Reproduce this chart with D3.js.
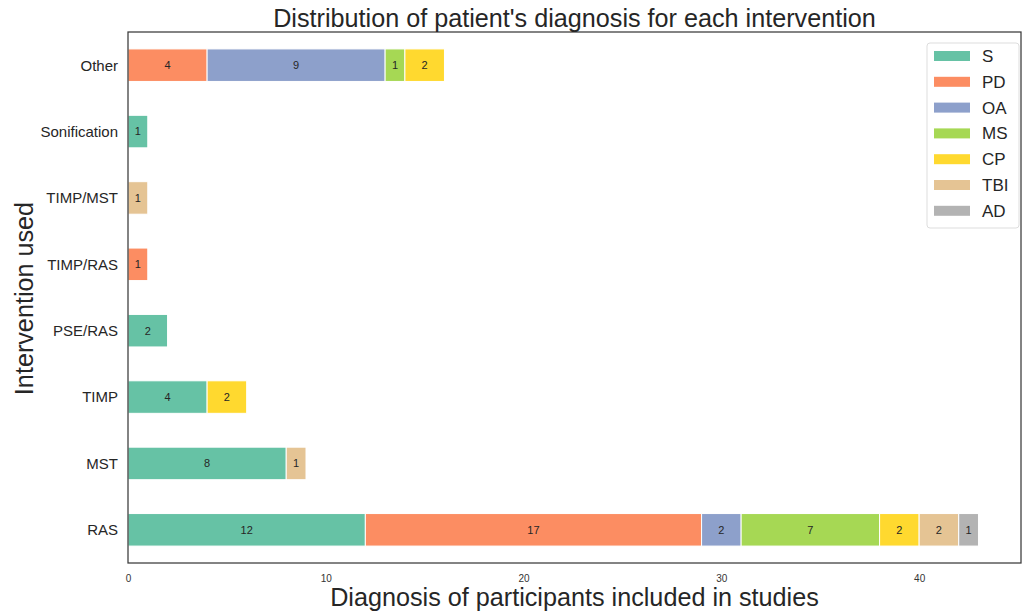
<!DOCTYPE html>
<html>
<head>
<meta charset="utf-8">
<script src="https://cdn.jsdelivr.net/npm/d3@7"></script>
<style>
  body { margin: 0; background: #fff; }
  text { font-family: "Liberation Sans", Arial, sans-serif; }
</style>
</head>
<body>
<div id="chart"></div>
<script>
// interventions, bottom to top
var categories = ["RAS", "MST", "TIMP", "PSE/RAS", "TIMP/RAS", "TIMP/MST", "Sonification", "Other"];
var diagnoses = ["S", "PD", "OA", "MS", "CP", "TBI", "AD"];
var colors = ["#66c2a5", "#fc8d62", "#8da0cb", "#a6d854", "#ffd92f", "#e5c494", "#b3b3b3"];

var S   = [12, 8, 4, 2, 0, 0, 1, 0];
var PD  = [17, 0, 0, 0, 1, 0, 0, 4];
var OA  = [2, 0, 0, 0, 0, 0, 0, 9];
var MS  = [7, 0, 0, 0, 0, 0, 0, 1];
var CP  = [2, 0, 2, 0, 0, 0, 0, 2];
var TBI = [2, 1, 0, 0, 0, 1, 0, 0];
var AD  = [1, 0, 0, 0, 0, 0, 0, 0];
var xTicks = [0, 10, 20, 30, 40];

var series = { S: S, PD: PD, OA: OA, MS: MS, CP: CP, TBI: TBI, AD: AD };
var rows = categories.map(function(c, i) {
  var r = { cat: c };
  diagnoses.forEach(function(d) { r[d] = series[d][i]; });
  return r;
});

var W = 1030, H = 615;
var plotL = 128, plotR = 1021, plotT = 32, plotB = 563;

var svg = d3.select("#chart").append("svg")
  .attr("width", W)
  .attr("height", H);

var maxTotal = d3.max(rows, function(r) { return d3.sum(diagnoses, function(d) { return r[d]; }); });
var x = d3.scaleLinear().domain([0, maxTotal * 1.05]).range([plotL, plotR]);
var y = d3.scaleLinear().domain([-0.5, categories.length - 0.5]).range([plotB, plotT]);
var barH = y(0) - y(0.49);

var stack = d3.stack().keys(diagnoses);
var layers = stack(rows);

var g = svg.selectAll("g.layer")
  .data(layers)
  .enter().append("g")
  .attr("class", "layer")
  .style("fill", function(d, i) { return colors[i]; });

function segs(d) {
  return d.map(function(v, i) { return { v0: v[0], v1: v[1], i: i }; })
    .filter(function(s) { return s.v1 > s.v0; });
}

g.selectAll("rect")
  .data(segs)
  .enter().append("rect")
  .attr("x", function(d) { return x(d.v0); })
  .attr("width", function(d) { return x(d.v1) - x(d.v0); })
  .attr("y", function(d) { return y(d.i) - barH / 2; })
  .attr("height", barH)
  .style("stroke", "#fff")
  .style("stroke-width", 1);

g.selectAll("text")
  .data(segs)
  .enter().append("text")
  .attr("x", function(d) { return (x(d.v0) + x(d.v1)) / 2; })
  .attr("y", function(d) { return y(d.i); })
  .attr("dy", ".35em")
  .style("text-anchor", "middle")
  .style("font-size", "11px")
  .style("fill", "#262626")
  .text(function(d) { return d.v1 - d.v0; });

// frame
svg.append("rect")
  .attr("x", plotL)
  .attr("y", plotT)
  .attr("width", plotR - plotL)
  .attr("height", plotB - plotT)
  .style("fill", "none")
  .style("stroke", "#3a3a3a")
  .style("stroke-width", 1.25);

// x axis
var xAxis = svg.append("g")
  .attr("transform", "translate(0," + plotB + ")")
  .call(d3.axisBottom(x).tickValues(xTicks).tickSize(0).tickPadding(12));
xAxis.select(".domain").remove();
xAxis.selectAll("text")
  .style("font-family", "'Liberation Sans', Arial, sans-serif")
  .style("font-size", "10px")
  .style("fill", "#333");

// y axis
var yAxis = svg.append("g")
  .attr("transform", "translate(" + plotL + ",0)")
  .call(d3.axisLeft(y).tickValues(d3.range(categories.length))
    .tickFormat(function(i) { return categories[i]; })
    .tickSize(0).tickPadding(10));
yAxis.select(".domain").remove();
yAxis.selectAll("text")
  .style("font-family", "'Liberation Sans', Arial, sans-serif")
  .style("font-size", "15px")
  .style("fill", "#262626");

// title and axis labels
svg.append("text")
  .attr("x", (plotL + plotR) / 2)
  .attr("y", 27)
  .style("text-anchor", "middle")
  .style("font-size", "25.2px")
  .style("fill", "#262626")
  .text("Distribution of patient's diagnosis for each intervention");

svg.append("text")
  .attr("x", (plotL + plotR) / 2)
  .attr("y", 606)
  .style("text-anchor", "middle")
  .style("font-size", "25.2px")
  .style("fill", "#262626")
  .text("Diagnosis of participants included in studies");

svg.append("text")
  .attr("transform", "translate(33," + ((plotT + plotB) / 2 + 1) + ") rotate(-90)")
  .style("text-anchor", "middle")
  .style("font-size", "25.2px")
  .style("fill", "#262626")
  .text("Intervention used");

// legend
var legend = svg.append("g");
legend.append("rect")
  .attr("x", 927)
  .attr("y", 43)
  .attr("width", 92)
  .attr("height", 185)
  .attr("rx", 3)
  .style("fill", "#fff")
  .style("stroke", "#ddd");

var item = legend.selectAll("g.item")
  .data(diagnoses)
  .enter().append("g")
  .attr("class", "item")
  .attr("transform", function(d, i) { return "translate(934," + (56 + i * 25.8) + ")"; });

item.append("rect")
  .attr("x", 0)
  .attr("y", -5)
  .attr("width", 36)
  .attr("height", 10)
  .style("fill", function(d, i) { return colors[i]; });

item.append("text")
  .attr("x", 48)
  .attr("y", 0)
  .attr("dy", ".35em")
  .style("font-size", "17px")
  .style("fill", "#262626")
  .text(function(d) { return d; });
</script>
</body>
</html>
